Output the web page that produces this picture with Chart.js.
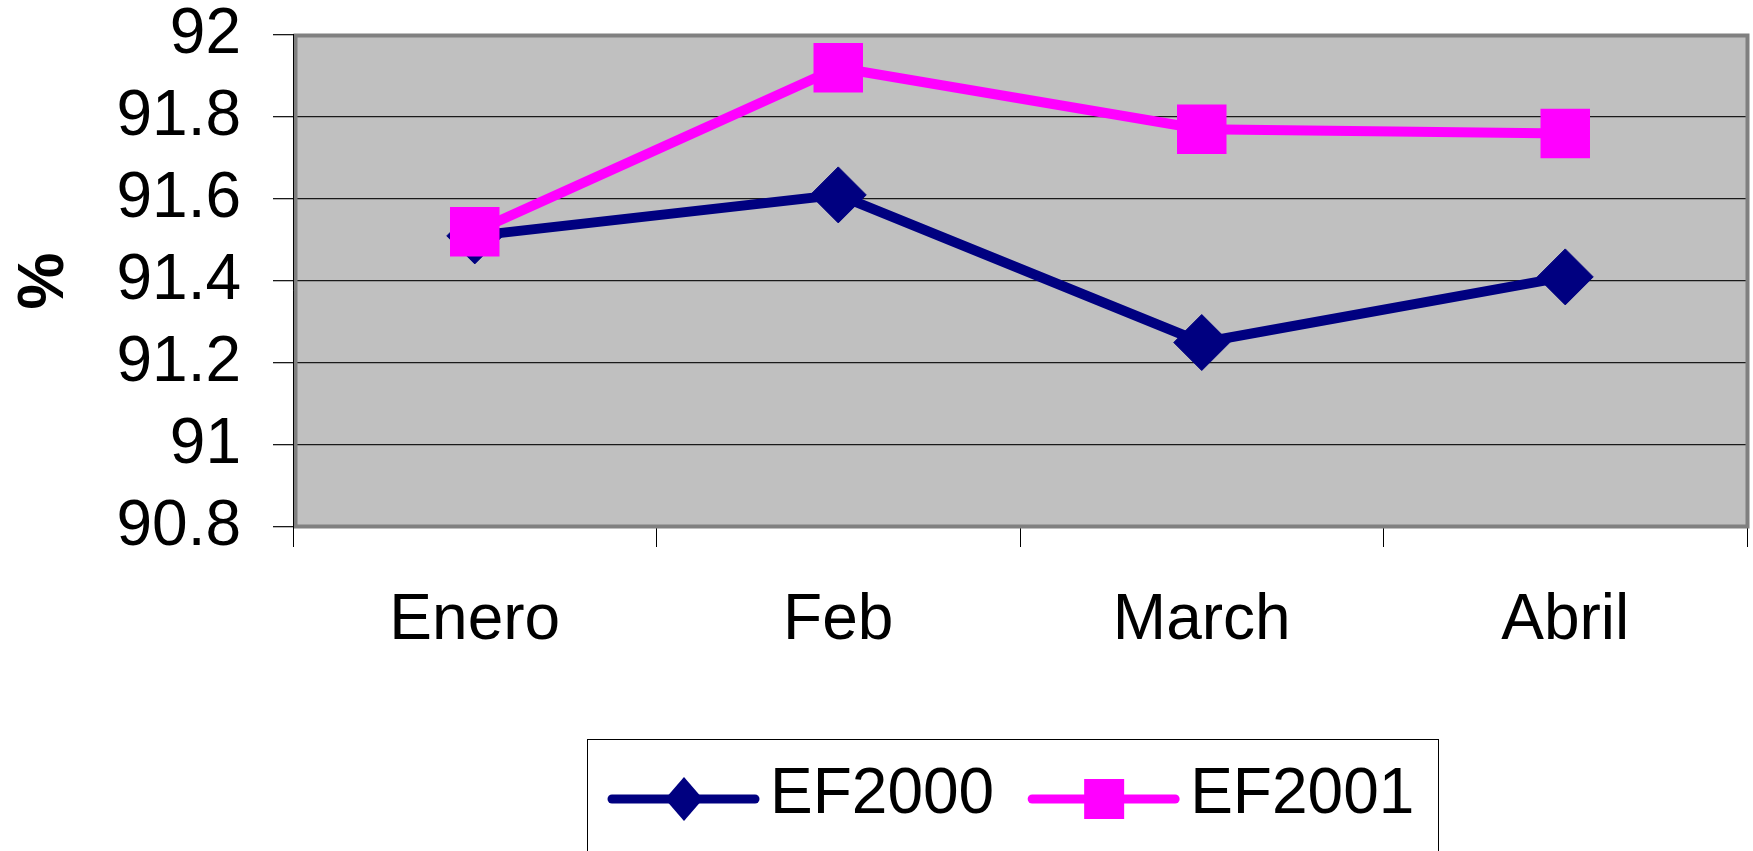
<!DOCTYPE html>
<html>
<head>
<meta charset="utf-8">
<script src="https://cdn.jsdelivr.net/npm/chart.js@4"></script>
<style>
html,body{margin:0;padding:0;background:#fff;}
canvas{display:block;}
</style>
</head>
<body>
<canvas id="c" width="1753" height="851"></canvas>
<script>
// ---- data ----
const categories = ['Enero', 'Feb', 'March', 'Abril'];
const ef2000 = [91.51, 91.61, 91.25, 91.41];
const ef2001 = [91.52, 91.92, 91.77, 91.76];
const seriesNames = ['EF2000', 'EF2001'];
const yAxisTitle = '%';
const yMin = 90.8, yMax = 92, yStep = 0.2;

const FONT = '"Liberation Sans", Arial, Helvetica, sans-serif';
const NAVY = '#000080';
const MAGENTA = '#FF00FF';

const framePlugin = {
  id: 'frame',
  beforeDraw(chart) {
    const a = chart.chartArea, ctx = chart.ctx;
    ctx.save();
    ctx.fillStyle = '#C0C0C0';
    ctx.fillRect(a.left, a.top, a.right - a.left, a.bottom - a.top);
    ctx.restore();
  },
  beforeDatasetsDraw(chart) {
    const a = chart.chartArea, ctx = chart.ctx;
    ctx.save();
    ctx.strokeStyle = '#808080';
    ctx.lineWidth = 4;
    ctx.strokeRect(a.left + 2.5, a.top + 0.5, a.right - a.left - 2, a.bottom - a.top - 1);
    ctx.strokeStyle = '#000';
    ctx.lineWidth = 1;
    ctx.beginPath();
    ctx.moveTo(a.left + 0.5, a.top - 1);
    ctx.lineTo(a.left + 0.5, a.bottom + 20);
    ctx.stroke();
    ctx.restore();
  },
  afterDraw(chart) {
    const ctx = chart.ctx;
    ctx.save();
    // legend box
    ctx.strokeStyle = '#000';
    ctx.lineWidth = 1;
    ctx.strokeRect(587.5, 739.5, 851, 200);
    ctx.font = '64px ' + FONT;
    ctx.textBaseline = 'alphabetic';
    ctx.textAlign = 'left';
    let x = 608;
    const y = 799;
    chart.data.datasets.forEach((ds) => {
      ctx.strokeStyle = ds.borderColor;
      ctx.lineWidth = 9;
      ctx.lineCap = 'round';
      ctx.beginPath();
      ctx.moveTo(x + 4, y);
      ctx.lineTo(x + 147, y);
      ctx.stroke();
      const cx = x + 76;
      ctx.fillStyle = ds.backgroundColor;
      ctx.beginPath();
      if (ds.pointStyle === 'rectRot') {
        ctx.moveTo(cx, y - 22);
        ctx.lineTo(cx + 19, y);
        ctx.lineTo(cx, y + 22);
        ctx.lineTo(cx - 19, y);
        ctx.closePath();
      } else {
        ctx.rect(cx - 20, y - 20, 40, 40);
      }
      ctx.fill();
      ctx.fillStyle = '#000';
      const tx = x + 162;
      ctx.fillText(ds.label, tx, 813);
      x = tx + ctx.measureText(ds.label).width + 34;
    });
    ctx.restore();
  }
};

new Chart(document.getElementById('c'), {
  type: 'line',
  data: {
    labels: categories,
    datasets: [
      {
        label: seriesNames[0],
        data: ef2000,
        borderColor: NAVY,
        backgroundColor: NAVY,
        borderWidth: 10,
        pointStyle: 'rectRot',
        pointRadius: 28,
        pointBorderWidth: 1,
        pointBorderColor: NAVY,
        pointBackgroundColor: NAVY,
        tension: 0,
        order: 1,
        clip: false
      },
      {
        label: seriesNames[1],
        data: ef2001,
        borderColor: MAGENTA,
        backgroundColor: MAGENTA,
        borderWidth: 10,
        pointStyle: 'rect',
        pointRadius: 35,
        pointBorderWidth: 0,
        pointBorderColor: MAGENTA,
        pointBackgroundColor: MAGENTA,
        tension: 0,
        order: 0,
        clip: false
      }
    ]
  },
  options: {
    responsive: false,
    animation: false,
    devicePixelRatio: 1,
    layout: { autoPadding: false, padding: { top: 35, left: 0, right: 6, bottom: 0 } },
    plugins: {
      legend: { display: false },
      tooltip: { enabled: false }
    },
    scales: {
      x: {
        type: 'category',
        offset: true,
        grid: {
          offset: true,
          drawOnChartArea: false,
          drawTicks: true,
          tickLength: 20,
          color: '#000',
          lineWidth: 1
        },
        border: { display: true, color: '#000', width: 1 },
        ticks: {
          font: { family: FONT, size: 64, lineHeight: 1 },
          color: '#000',
          padding: 42,
          maxRotation: 0,
          autoSkip: false
        },
        afterFit(scale) {
          scale.height = 324;
          scale.paddingLeft = 0;
          scale.paddingRight = 0;
        }
      },
      y: {
        min: yMin,
        max: yMax,
        grid: {
          color: '#1a1a1a',
          lineWidth: 1.3,
          drawTicks: true,
          tickLength: 20
        },
        border: { display: true, color: '#000', width: 1 },
        ticks: {
          stepSize: yStep,
          autoSkip: false,
          font: { family: FONT, size: 64, lineHeight: 1 },
          color: '#000',
          padding: 32,
          callback: (v) => String(Math.round(v * 10) / 10)
        },
        title: {
          display: true,
          text: yAxisTitle,
          color: '#000',
          font: { family: FONT, size: 64, weight: 'bold', lineHeight: 1.2 },
          padding: { top: 7, bottom: 0 }
        },
        afterFit(scale) {
          scale.width = 293;
          scale.paddingTop = 0;
          scale.paddingBottom = 0;
        }
      }
    }
  },
  plugins: [framePlugin]
});
</script>
</body>
</html>
